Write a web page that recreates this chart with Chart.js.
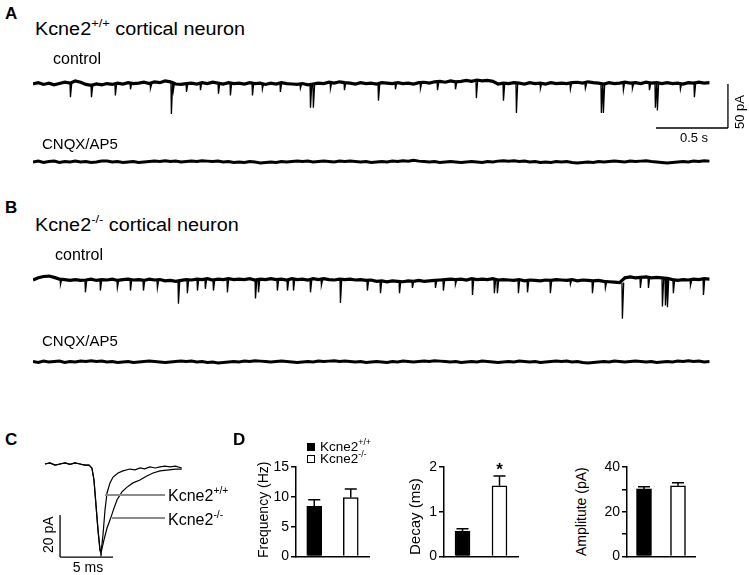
<!DOCTYPE html>
<html>
<head>
<meta charset="utf-8">
<script src="https://cdn.jsdelivr.net/npm/chart.js@4"></script>
<style>
  body { margin: 0; background: #fff; }
  #fig { position: relative; width: 749px; height: 575px; font-family: "Liberation Sans", Arial, sans-serif; color: #000; overflow: hidden; }
  #fig canvas { position: absolute; }
  .t { position: absolute; white-space: nowrap; line-height: 1; }
  .pl { font-weight: bold; font-size: 17px; }
  .ti { font-size: 18px; transform: scaleX(1.1); transform-origin: left top; }
  sup { font-size: 0.65em; vertical-align: 0; position: relative; top: -0.65em; }
  .vt { position: absolute; width: 16px; height: 140px; display: flex; align-items: center; justify-content: center;
        writing-mode: vertical-rl; transform: rotate(180deg); white-space: nowrap; line-height: 16px; }
  .lead { position: absolute; height: 1.5px; background: #8c8c8c; }
  .sq { position: absolute; width: 8px; height: 8px; border: 1px solid #000; box-sizing: border-box; }
</style>
</head>
<body>
<div id="fig">
  <canvas id="aCtrl" width="700" height="70" style="left:33px;top:62px"></canvas>
  <canvas id="aCnqx" width="690" height="26" style="left:33px;top:150px"></canvas>
  <canvas id="bCtrl" width="690" height="64" style="left:33px;top:262px"></canvas>
  <canvas id="bCnqx" width="690" height="26" style="left:33px;top:350px"></canvas>
  <canvas id="cAvg" width="150" height="105" style="left:40px;top:455px"></canvas>
  <canvas id="dFreq" width="131" height="112" style="left:240px;top:455px"></canvas>
  <canvas id="dDecay" width="120" height="112" style="left:400px;top:455px"></canvas>
  <canvas id="dAmp" width="107" height="112" style="left:590px;top:455px"></canvas>

  <div class="t pl" style="left:5px;top:5px">A</div>
  <div class="t ti" style="left:35px;top:20px">Kcne2<sup>+/+</sup> cortical neuron</div>
  <div class="t" style="left:53px;top:51px;font-size:16px">control</div>
  <div class="t" style="left:42px;top:136px;font-size:15px">CNQX/AP5</div>
  <div class="vt" style="left:732px;top:42px;font-size:13px">50 pA</div>
  <div class="t" style="left:694px;top:131px;font-size:13px;transform:translateX(-50%)">0.5 s</div>

  <div class="t pl" style="left:5px;top:199px">B</div>
  <div class="t ti" style="left:35px;top:216px">Kcne2<sup>-/-</sup> cortical neuron</div>
  <div class="t" style="left:55px;top:247px;font-size:16px">control</div>
  <div class="t" style="left:42px;top:333px;font-size:15px">CNQX/AP5</div>

  <div class="t pl" style="left:5px;top:431px">C</div>
  <div class="lead" style="left:105px;top:494px;width:60px"></div>
  <div class="lead" style="left:112px;top:517px;width:53px"></div>
  <div class="t" style="left:168px;top:488px;font-size:16px">Kcne2<sup>+/+</sup></div>
  <div class="t" style="left:168px;top:512px;font-size:16px">Kcne2<sup>-/-</sup></div>
  <div class="vt" style="left:40px;top:465px;font-size:14px">20 pA</div>
  <div class="t" style="left:88px;top:560px;font-size:14px;transform:translateX(-50%)">5 ms</div>

  <div class="t pl" style="left:233px;top:431px">D</div>
  <div class="sq" style="left:307px;top:443px;background:#000"></div>
  <div class="t" style="left:320px;top:440px;font-size:13.5px">Kcne2<sup>+/+</sup></div>
  <div class="sq" style="left:307px;top:455px;background:#fff"></div>
  <div class="t" style="left:320px;top:452px;font-size:13.5px">Kcne2<sup>-/-</sup></div>
  <div class="vt" style="left:255px;top:440px;font-size:14px">Frequency (Hz)</div>
  <div class="vt" style="left:407px;top:447px;font-size:15px">Decay (ms)</div>
  <div class="vt" style="left:573px;top:442px;font-size:14px">Amplitute (pA)</div>
</div>

<script>
// sweeps: one baseline sample every 36.7 ms (values in pA), events as [time s, peak pA]
const DT = 0.0367;

const aCtrlBase = [
  0, 1.5, -0.5, 1, -1, 0.5, 2, 1, 3.5, 2,
  -0.5, -1.5, 0, -1, 0.5, -0.5, 1, 0, 1.5, 0.5,
  1, 2, 0.5, 2.5, 1.5, 3.5, 2.5, 0, -0.5, 0.5,
  1, 0, 1.5, 0.5, 2, 1, 0, 1.5, 0.5, 1,
  0, 1.5, 0.5, 1, -0.5, 1, 0, 1.5, 0.5, 0,
  -0.5, 0.5, -1, 0, 1, 0.5, 2, 1, 2.5, 1.5,
  1, 0, 1.5, 0.5, 1, 0, 1.5, 1, 0.5, 1.5,
  0.5, 1, 0, 1.5, 2, 1, 2.5, 3, 2, 3.5,
  2.5, 3, 4, 3, 4.5, 3.5, 4, 3, 0, 1,
  0.5, 1.5, 1, 0, 1.5, 0.5, 1, 0, 1.5, 0.5,
  1, 0.5, 1.5, 2, 1, 2.5, 1.5, 1, 0, 1.5,
  0.5, 1, 2, 1, 1.5, 0.5, 2, 1, 1.5, 0.5,
  1.5, 0.5, 1, 0, 1.5, 1, 2, 1, 1.5
];
const aCtrlEvents = [
  [0.257, -15], [0.403, -15], [0.569, -13], [0.674, -6], [0.813, -5], [0.958, -34],
  [0.972, -7], [1.063, -9], [1.160, -7], [1.285, -11], [1.368, -13], [1.521, -13],
  [1.590, -6], [1.715, -9], [1.854, -5], [1.924, -27], [1.944, -27], [2.063, -5],
  [2.160, -7], [2.396, -19], [2.514, -6], [2.688, -5], [2.806, -7], [2.931, -6],
  [3.076, -16], [3.264, -19], [3.354, -33], [3.521, -5], [3.729, -6], [3.833, -5],
  [3.944, -33], [3.958, -33], [4.097, -7], [4.160, -5], [4.278, -7], [4.319, -27],
  [4.333, -30], [4.493, -6], [4.590, -15]
];
const aCnqxBase = [
  0, 1, -0.5, 0.5, 1, -0.5, 0.5, 0, 1, 0,
  0.5, -0.5, 0, 1, 1, 0, 0.5, -0.5, 0, 0.5,
  -0.5, 0, 0.5, 1, 0.5, 1.5, 0.5, 1, 0, 0.5,
  1, 0.5, 1.5, 1, 0.5, 1, 0, 0.5, -0.5, 0,
  -0.5, 0.5, 0, -1, -0.5, 0, -0.5, 0.5, 0, 0.5,
  1, 0.5, 1, 0, 0.5, 1, 0.5, 0, 1, 0.5,
  1, 0.5, 0, 0.5, -0.5, 0, 0.5, 0, 1, 0.5,
  1.5, 1, 2, 1, 0.5, 0, 0.5, -0.5, 0, 0.5,
  0, -0.5, 0, 0.5, 0, -0.5, 0.5, 0, 1, 1.5,
  1, 1.5, 0.5, 1, 0, 0.5, -0.5, 0, -0.5, 0.5,
  0, 0.5, -0.5, -1, -0.5, 0, -0.5, 0.5, 0, 0.5,
  1, 0.5, 0, 1, 0.5, 1, 1.5, 0.5, 0, -0.5,
  -1, -0.5, 0, 0.5, 0, 1, 0.5, 1.5, 1
];
const bCtrlBase = [
  0, 2.5, 4, 4.5, 3, 1, 0.5, -0.5, 0.5, -0.5,
  0, 1, -0.5, 0.5, 0, 1, -0.5, 0.5, 1, 0,
  0.5, -0.5, 1, 0, 0.5, -1, -0.5, -1.5, -0.5, 0.5,
  0, 1, 0.5, 1.5, 0, 1, 0.5, 1.5, 0.5, 1,
  0.5, 1.5, 0, 1, 0.5, 1.5, 0.5, 1, 0, 1.5,
  0.5, 1, 0, 1.5, 0.5, 1.5, 0.5, 0, 1, 0.5,
  1, 0, 0.5, -0.5, 0, -1.5, -1, -2, -1, -1.5,
  -2, -1, -1.5, -0.5, -1.5, -1, -0.5, 0, 0.5, 1,
  0.5, 1, 0, 1.5, 0.5, 1, 0.5, 1.5, 0, 0.5,
  0, -0.5, 0.5, -1, 0, -0.5, -1, 0, -0.5, 0.5,
  0, -0.5, 0.5, -1, 0, -0.5, -1, -0.5, -1.5, -2,
  -2.5, -3, 2.5, 3.5, 2.5, 3, 3.5, 2.5, 3, 2.5,
  2, 0.5, -0.5, 0.5, 0, 1, 0.5, 1.5, 1
];
const bCtrlEvents = [
  [0.188, -5], [0.361, -14], [0.465, -12], [0.583, -9], [0.674, -12], [0.764, -12],
  [0.861, -9], [1.007, -27], [1.069, -15], [1.139, -12], [1.194, -10], [1.250, -12],
  [1.347, -14], [1.542, -21], [1.563, -14], [1.694, -12], [1.764, -12], [1.806, -12],
  [1.924, -14], [2.000, -6], [2.132, -26], [2.319, -12], [2.410, -15], [2.542, -15],
  [2.632, -9], [2.792, -9], [2.847, -12], [2.931, -5], [3.049, -17], [3.201, -15],
  [3.222, -15], [3.368, -15], [3.431, -14], [3.590, -15], [3.729, -5], [3.882, -15],
  [3.972, -9], [4.090, -44], [4.215, -9], [4.271, -9], [4.368, -30], [4.389, -29],
  [4.403, -31], [4.444, -15], [4.563, -6], [4.653, -17]
];
const bCnqxBase = [
  0.5, -0.5, 1, 0, 0.5, 1, -0.5, 0.5, 0, 1,
  0.5, 1.5, 0.5, 1, 0, 0.5, -0.5, 0, 0.5, -0.5,
  0, 0.5, 1, 0.5, 0, -0.5, 0, 0.5, 1, 0.5,
  1, 0, 0.5, -0.5, 0, -1, -0.5, 0, 0.5, 0,
  1, 0.5, 1.5, 1, 0.5, 0, 0.5, 1, 0.5, 0,
  -0.5, 0, 0.5, 0, 1, 0.5, 1, 1.5, 0.5, 1,
  0.5, 0, 0.5, -0.5, 0, 0.5, 0, -0.5, 0.5, 0,
  1, 0.5, 0, 0.5, 1, 0.5, 1.5, 1, 0.5, 0,
  0.5, -0.5, 0, 0.5, 0, 1, 0.5, 0, -0.5, 0,
  0.5, 0, 1, 0.5, 0, 0.5, -0.5, 0, 0.5, 1,
  0.5, 1, 0, 0.5, -0.5, -1, -0.5, 0, 0.5, 0,
  1, 0.5, 0, 0.5, 1, 0.5, 0, 0.5, -0.5, 0,
  0.5, 0, 1, 0.5, 1.5, 0.5, 1, 0, 0.5
];

// averaged EPSCs (time ms, current pA)
const cTimeWt = [0, 0.47, 0.94, 1.42, 1.89, 2.36, 2.83, 3.3, 3.77, 4.15, 4.43, 4.62, 4.81, 5.0, 5.19, 5.28, 5.47, 5.66, 5.85, 6.13, 6.42, 6.89, 7.36, 8.0, 8.5, 8.96, 9.4, 9.9, 10.4, 10.85, 11.3, 11.8, 12.3, 12.9];
const cAmpWt = [0, 0.5, -0.5, 0, 0.5, -0.2, 0.5, 0, -0.5, -0.5, -2, -7.6, -19.5, -31.4, -41, -42.4, -33.8, -21.9, -13.8, -9, -6.2, -4.3, -3.3, -2.4, -2.8, -1.9, -2.3, -1.4, -1.9, -1.4, -1.0, -1.4, -1.0, -1.9];
const cTimeKo = [0, 0.47, 0.94, 1.42, 1.89, 2.36, 2.83, 3.3, 3.77, 4.15, 4.43, 4.62, 4.81, 5.0, 5.19, 5.28, 5.57, 5.85, 6.13, 6.51, 6.8, 7.26, 7.74, 8.3, 8.96, 9.6, 10.2, 10.85, 11.5, 12.3, 12.9];
const cAmpKo = [0, 0.5, -0.5, 0, 0.5, -0.2, 0.5, 0, -0.5, -0.5, -2, -7.6, -19.5, -31.4, -41, -42.4, -36, -30.5, -26.7, -21, -17, -13.3, -11, -9, -7.6, -5.7, -4.3, -3.3, -2.9, -2.4, -2.4];

// summary (mean, SEM)
const groups = ['Kcne2+/+', 'Kcne2-/-'];
const freqMean = [8.4, 9.9];
const freqErr = [1.1, 1.4];
const decayMean = [0.57, 1.58];
const decayErr = [0.05, 0.22];
const decaySig = ['', '*'];
const ampMean = [30.2, 31.6];
const ampErr = [1.0, 1.4];

const PX_S = 144;     // px per second in sweeps
const PX_PA = 0.88;   // px per pA in sweeps
const FONT = '"Liberation Sans", Arial, sans-serif';

const scaleBar = {
  id: 'scaleBar',
  afterDraw(chart, args, o) {
    if (!o || o.x0 === undefined) return;
    const { ctx, scales: { x, y } } = chart;
    const xa = x.getPixelForValue(o.x0), xb = x.getPixelForValue(o.x0 + o.dx);
    const ya = y.getPixelForValue(o.y0), yb = y.getPixelForValue(o.y0 + o.dy);
    const xv = o.side === 'right' ? xb : xa;
    ctx.save();
    ctx.strokeStyle = '#000';
    ctx.lineWidth = 1.3;
    ctx.beginPath();
    ctx.moveTo(xa, ya); ctx.lineTo(xb, ya);
    ctx.moveTo(xv, ya); ctx.lineTo(xv, yb);
    ctx.stroke();
    ctx.restore();
  }
};

function sweep(id, base, events, baseY, top, lw, bar) {
  const cv = document.getElementById(id);
  const yMax = (baseY - top) / PX_PA;
  const pts = base.map((v, i) => ({ x: i * DT, y: v }));
  const spikes = [];
  (events || []).forEach(([t, p]) => {
    const b = base[Math.round(t / DT)];
    spikes.push({ x: t, y: b }, { x: t + 0.003, y: p }, { x: t + 0.012, y: b }, { x: t + 0.013, y: null });
  });
  new Chart(cv, {
    type: 'scatter',
    data: {
      datasets: [
        { data: pts, showLine: true, borderColor: '#000', borderWidth: lw, pointRadius: 0, tension: 0 },
        { data: spikes, showLine: true, spanGaps: false, borderColor: '#000', borderWidth: 1.3, pointRadius: 0 }
      ]
    },
    options: {
      responsive: false, animation: false, events: [],
      layout: { padding: 0 },
      plugins: { legend: { display: false }, tooltip: { enabled: false }, scaleBar: bar || {} },
      scales: {
        x: { type: 'linear', display: false, min: 0, max: cv.width / PX_S },
        y: { display: false, max: yMax, min: yMax - cv.height / PX_PA }
      }
    },
    plugins: [scaleBar]
  });
}

sweep('aCtrl', aCtrlBase, aCtrlEvents, 84, 62, 3.2, { x0: 4.326, dx: 0.5, y0: -50, dy: 50, side: 'right' });
sweep('aCnqx', aCnqxBase, null, 162, 150, 3);
sweep('bCtrl', bCtrlBase, bCtrlEvents, 280, 262, 3.2);
sweep('bCnqx', bCnqxBase, null, 362, 350, 3);

// panel C: 10.6 px per ms, 2.1 px per pA; baseline at y 464, t=0 at x 45
(function () {
  const cv = document.getElementById('cAvg');
  const xMin = -5 / 10.6, yMax = (464 - 455) / 2.1;
  new Chart(cv, {
    type: 'scatter',
    data: {
      datasets: [
        { data: cTimeKo.map((t, i) => ({ x: t, y: cAmpKo[i] })), showLine: true, borderColor: '#000', borderWidth: 1.2, pointRadius: 0 },
        { data: cTimeWt.map((t, i) => ({ x: t, y: cAmpWt[i] })), showLine: true, borderColor: '#000', borderWidth: 1.2, pointRadius: 0 }
      ]
    },
    options: {
      responsive: false, animation: false, events: [],
      layout: { padding: 0 },
      plugins: { legend: { display: false }, tooltip: { enabled: false },
        scaleBar: { x0: 1.42, dx: 5, y0: -44.3, dy: 20, side: 'left' } },
      scales: {
        x: { type: 'linear', display: false, min: xMin, max: xMin + cv.width / 10.6 },
        y: { display: false, max: yMax, min: yMax - cv.height / 2.1 }
      }
    },
    plugins: [scaleBar]
  });
})();

const errorBars = {
  id: 'errorBars',
  afterDatasetsDraw(chart, args, o) {
    const { ctx } = chart;
    const ys = chart.scales.y;
    const ds = chart.data.datasets[0];
    chart.getDatasetMeta(0).data.forEach((bar, i) => {
      const top = ys.getPixelForValue(ds.data[i] + o.err[i]);
      ctx.save();
      ctx.strokeStyle = '#000';
      ctx.lineWidth = 1.5;
      ctx.beginPath();
      ctx.moveTo(bar.x, bar.y); ctx.lineTo(bar.x, top);
      ctx.moveTo(bar.x - 6, top); ctx.lineTo(bar.x + 6, top);
      ctx.stroke();
      if (o.sig && o.sig[i]) {
        ctx.fillStyle = '#000';
        ctx.font = 'bold 17px ' + FONT;
        ctx.textAlign = 'center';
        ctx.textBaseline = 'alphabetic';
        ctx.fillText(o.sig[i], bar.x, top - 1);
      }
      ctx.restore();
    });
  }
};

function barChart(id, mean, err, sig, max, step, axisW, labelEvery) {
  new Chart(document.getElementById(id), {
    type: 'bar',
    data: {
      labels: groups,
      datasets: [{ data: mean, backgroundColor: ['#000', '#fff'], borderColor: '#000', borderWidth: 1.5, barThickness: 15, borderSkipped: 'start' }]
    },
    options: {
      responsive: false, animation: false, events: [],
      layout: { padding: { top: 12, right: 2, bottom: 10, left: 0 } },
      plugins: { legend: { display: false }, tooltip: { enabled: false }, errorBars: { err, sig } },
      scales: {
        x: {
          grid: { display: false, drawTicks: false },
          ticks: { display: false },
          border: { color: '#000', width: 1.5 },
          afterFit: s => { s.height = 0; }
        },
        y: {
          min: 0, max: max,
          ticks: { stepSize: step, color: '#000', padding: 2, font: { family: FONT, size: 14 },
            callback: v => (v % labelEvery === 0 ? v : '') },
          grid: { drawOnChartArea: false, drawTicks: true, tickLength: 5, color: '#000', lineWidth: 1.5 },
          border: { color: '#000', width: 1.5 },
          afterFit: s => { s.width = axisW; }
        }
      }
    },
    plugins: [errorBars]
  });
}

barChart('dFreq', freqMean, freqErr, null, 15, 5, 56, 5);
barChart('dDecay', decayMean, decayErr, decaySig, 2, 1, 44, 1);
barChart('dAmp', ampMean, ampErr, null, 40, 10, 37, 20);
</script>
</body>
</html>
